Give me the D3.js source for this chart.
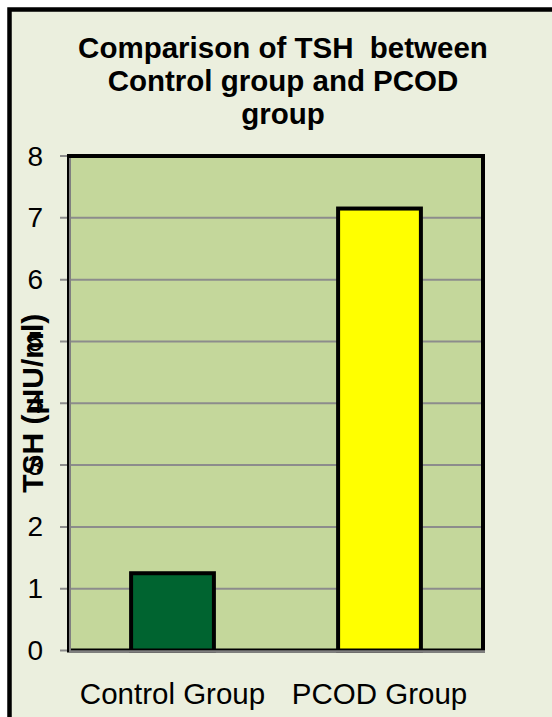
<!DOCTYPE html>
<html>
<head>
<meta charset="utf-8">
<script src="https://cdn.jsdelivr.net/npm/d3@7/dist/d3.min.js"></script>
<style>
  html, body { margin: 0; padding: 0; background: #ffffff; }
  svg { display: block; }
  text { font-family: "Liberation Sans", Arial, sans-serif; fill: #000; white-space: pre; }
</style>
</head>
<body>
<svg id="chart" width="552" height="717"></svg>
<script>
const categories = ["Control Group", "PCOD Group"];
const values = [1.25, 7.15];
const barColors = ["#006430", "#FFFF00"];
const yTicks = [0, 1, 2, 3, 4, 5, 6, 7, 8];
const titleLines = ["Comparison of TSH  between", "Control group and PCOD", "group"];
const yTitle = "TSH (µIU/ml)";

const svg = d3.select("#chart");
const W = 552, H = 717;
const plot = { left: 69, right: 483, top: 156, bottom: 650.5 };

// chart area background and outer border
svg.append("rect").attr("x", 9.5).attr("y", 9.5).attr("width", W + 20).attr("height", H + 20)
  .attr("fill", "#EBEFDE").attr("stroke", "#000").attr("stroke-width", 4.5);

const x = d3.scaleBand().domain(categories).range([plot.left, plot.right])
  .paddingInner(0.6).paddingOuter(0.3);
const y = d3.scaleLinear().domain([0, 8]).range([plot.bottom, plot.top]);

// plot area
svg.append("rect").attr("x", plot.left).attr("y", plot.top)
  .attr("width", plot.right - plot.left).attr("height", plot.bottom - plot.top)
  .attr("fill", "#C4D79B");

// gridlines + ticks
svg.append("g").selectAll("line").data(yTicks.slice(1)).join("line")
  .attr("x1", plot.left - 9).attr("x2", plot.right)
  .attr("y1", d => y(d)).attr("y2", d => y(d))
  .attr("stroke", "#8C8C8C").attr("stroke-width", 2);
svg.append("line").attr("x1", plot.left - 9).attr("x2", plot.left)
  .attr("y1", y(0)).attr("y2", y(0)).attr("stroke", "#8C8C8C").attr("stroke-width", 2);

// plot border: black frame
svg.append("rect").attr("x", plot.left).attr("y", plot.top)
  .attr("width", plot.right - plot.left).attr("height", plot.bottom - plot.top)
  .attr("fill", "none").attr("stroke", "#000").attr("stroke-width", 4);

// bars
svg.append("g").selectAll("rect").data(values).join("rect")
  .attr("x", (d, i) => x(categories[i]))
  .attr("width", x.bandwidth())
  .attr("y", d => y(d))
  .attr("height", d => y(0) - y(d))
  .attr("fill", (d, i) => barColors[i])
  .attr("stroke", "#000").attr("stroke-width", 4);

// gray axis lines (left and bottom)
svg.append("line").attr("x1", plot.left + 1).attr("x2", plot.left + 1)
  .attr("y1", plot.top + 2).attr("y2", plot.bottom + 2)
  .attr("stroke", "#808080").attr("stroke-width", 2);
svg.append("line").attr("x1", plot.left).attr("x2", plot.right + 2)
  .attr("y1", plot.bottom + 1).attr("y2", plot.bottom + 1)
  .attr("stroke", "#808080").attr("stroke-width", 2.5);

// y tick labels
svg.append("g").selectAll("text").data(yTicks).join("text")
  .attr("x", 43).attr("y", d => y(d))
  .attr("text-anchor", "end").attr("dominant-baseline", "central")
  .attr("font-size", 28).text(d => d);

// x labels
svg.append("g").selectAll("text").data(categories).join("text")
  .attr("x", d => x(d) + x.bandwidth() / 2).attr("y", 704)
  .attr("text-anchor", "middle").attr("font-size", 29.5).text(d => d);

// title
svg.append("g").selectAll("text").data(titleLines).join("text")
  .attr("x", 283).attr("y", (d, i) => 58 + i * 33)
  .attr("text-anchor", "middle").attr("font-size", 29.5).attr("font-weight", "bold")
  .text(d => d);

// y axis title
svg.append("text")
  .attr("transform", "translate(43," + ((plot.top + plot.bottom) / 2) + ") rotate(-90)")
  .attr("text-anchor", "middle").attr("font-size", 30).attr("font-weight", "bold")
  .text(yTitle);
</script>
</body>
</html>
